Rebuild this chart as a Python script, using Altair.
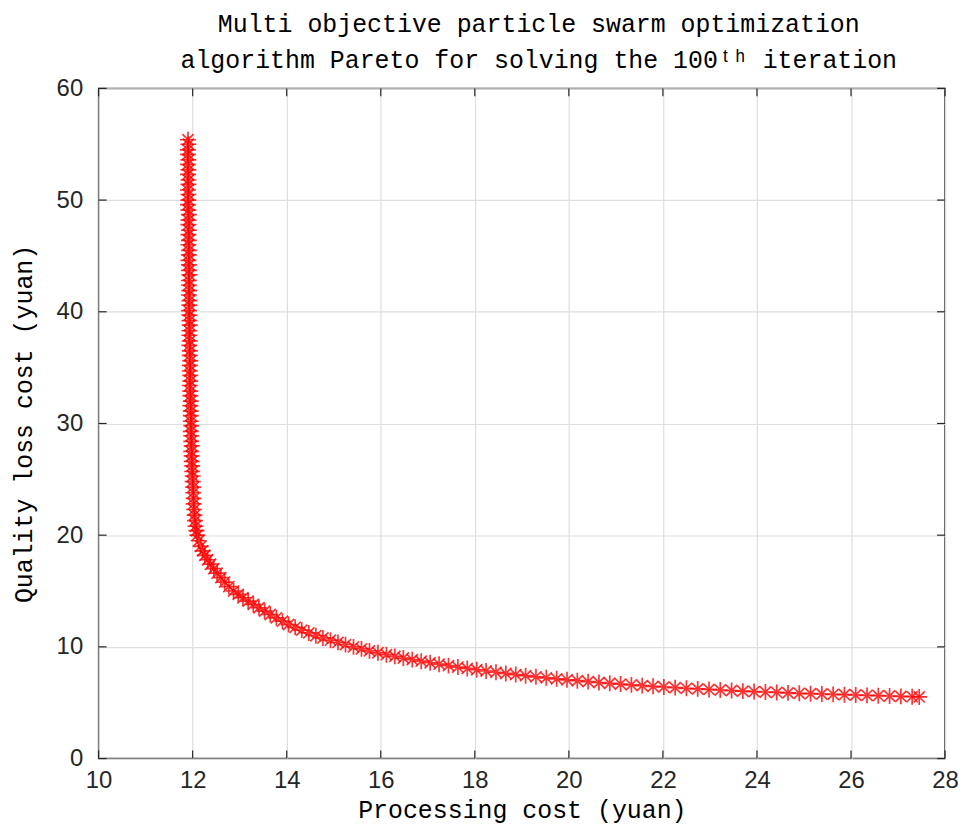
import altair as alt
import pandas as pd

# Pareto front points: steep branch near x = 12
steep_cost = [
    11.90, 11.91, 11.90, 11.90, 11.91, 11.90, 11.91, 11.90, 11.91, 11.91,
    11.90, 11.91, 11.91, 11.90, 11.91, 11.92, 11.91, 11.91, 11.92, 11.91,
    11.92, 11.91, 11.92, 11.92, 11.91, 11.92, 11.92, 11.93, 11.92, 11.92,
    11.93, 11.92, 11.93, 11.93, 11.92, 11.93, 11.93, 11.94, 11.93, 11.93,
    11.94, 11.93, 11.94, 11.94, 11.95, 11.94, 11.94, 11.95, 11.95, 11.94,
    11.95, 11.95, 11.96, 11.95, 11.96, 11.96, 11.96, 11.97, 11.96, 11.97,
    11.97, 11.98, 11.97, 11.98, 11.98, 11.99, 11.99, 12.00,
]
steep_loss = [
    55.4, 55.0, 54.5, 54.1, 53.6, 53.2, 52.7, 52.3, 51.8, 51.4,
    50.9, 50.5, 50.0, 49.6, 49.1, 48.7, 48.2, 47.8, 47.3, 46.9,
    46.4, 46.0, 45.5, 45.1, 44.6, 44.2, 43.7, 43.3, 42.8, 42.4,
    41.9, 41.5, 41.0, 40.6, 40.1, 39.7, 39.2, 38.8, 38.3, 37.9,
    37.4, 37.0, 36.5, 36.1, 35.6, 35.2, 34.7, 34.3, 33.8, 33.4,
    32.9, 32.5, 32.0, 31.6, 31.1, 30.7, 30.2, 29.8, 29.3, 28.9,
    28.4, 28.0, 27.5, 27.1, 26.6, 26.2, 25.7, 25.3,
]
# knee and flat branch
flat_cost = [
    12.00, 12.01, 12.01, 12.02, 12.02, 12.03, 12.04, 12.05, 12.06, 12.08,
    12.10, 12.13, 12.17, 12.21, 12.26, 12.32, 12.38, 12.45, 12.52, 12.60,
    12.68, 12.77, 12.87, 12.97, 13.07, 13.18, 13.29, 13.41, 13.53, 13.65,
    13.78, 13.91, 14.04, 14.18, 14.32, 14.47, 14.62, 14.77, 14.93, 15.09,
    15.25, 15.42, 15.59, 15.76, 15.94, 16.12, 16.30, 16.48, 16.67, 16.86,
    17.05, 17.24, 17.44, 17.64, 17.84, 18.04, 18.24, 18.45, 18.66, 18.87,
    19.08, 19.30, 19.52, 19.74, 19.96, 20.18, 20.41, 20.64, 20.87, 21.10,
    21.33, 21.56, 21.79, 22.02, 22.26, 22.50, 22.74, 22.98, 23.22, 23.46,
    23.70, 23.94, 24.18, 24.42, 24.66, 24.90, 25.14, 25.38, 25.62, 25.86,
    26.10, 26.34, 26.58, 26.82, 27.06, 27.30, 27.45,
]
flat_loss = [
    24.8, 24.3, 23.8, 23.3, 22.8, 22.3, 21.8, 21.3, 20.8, 20.4,
    20.0, 19.5, 19.0, 18.6, 18.2, 17.8, 17.4, 17.0, 16.6, 16.2,
    15.8, 15.4, 15.0, 14.7, 14.4, 14.1, 13.8, 13.5, 13.2, 12.9,
    12.6, 12.3, 12.0, 11.75, 11.5, 11.25, 11.0, 10.8, 10.6, 10.4,
    10.2, 10.0, 9.82, 9.64, 9.47, 9.3, 9.15, 9.0, 8.86, 8.72,
    8.58, 8.45, 8.32, 8.19, 8.07, 7.95, 7.84, 7.73, 7.62, 7.52,
    7.42, 7.32, 7.23, 7.14, 7.05, 6.97, 6.89, 6.81, 6.74, 6.67,
    6.60, 6.53, 6.47, 6.41, 6.35, 6.29, 6.24, 6.19, 6.14, 6.09,
    6.04, 6.00, 5.96, 5.92, 5.88, 5.84, 5.81, 5.78, 5.75, 5.72,
    5.69, 5.66, 5.63, 5.60, 5.57, 5.54, 5.52,
]
x_ticks = [10, 12, 14, 16, 18, 20, 22, 24, 26, 28]
y_ticks = [0, 10, 20, 30, 40, 50, 60]

W, H = 850, 673
TICK = 8
TEXT_FONT = "Liberation Mono"
NUM_FONT = "Liberation Sans"
AX = "#262626"

df = pd.DataFrame({"x": steep_cost + flat_cost, "y": steep_loss + flat_loss})
xt = pd.DataFrame({"t": x_ticks})
yt = pd.DataFrame({"t": y_ticks})

xscale = alt.Scale(domain=[10, 28], nice=False, zero=False)
yscale = alt.Scale(domain=[0, 60], nice=False, zero=False)

asterisk = "M-1,0L1,0M0,-1L0,1M-0.7,-0.7L0.7,0.7M-0.7,0.7L0.7,-0.7"

points = alt.Chart(df).mark_point(
    shape=asterisk, filled=False, stroke="#ff0000", strokeWidth=1.7,
    size=256, opacity=0.8,
).encode(
    x=alt.X("x:Q", scale=xscale,
            axis=alt.Axis(values=x_ticks, title="Processing cost (yuan)",
                          grid=True, format="d", labelFlush=False)),
    y=alt.Y("y:Q", scale=yscale,
            axis=alt.Axis(values=y_ticks, title="Quality loss cost (yuan)",
                          grid=True, format="d", labelFlush=False)),
)

bottom_ticks = alt.Chart(xt).mark_rule(color=AX, strokeWidth=1.2).encode(
    x=alt.X("t:Q", scale=xscale), y=alt.value(H), y2=alt.value(H - TICK))
top_ticks = alt.Chart(xt).mark_rule(color=AX, strokeWidth=1.2).encode(
    x=alt.X("t:Q", scale=xscale), y=alt.value(0), y2=alt.value(TICK))
left_ticks = alt.Chart(yt).mark_rule(color=AX, strokeWidth=1.2).encode(
    y=alt.Y("t:Q", scale=yscale), x=alt.value(0), x2=alt.value(TICK))
right_ticks = alt.Chart(yt).mark_rule(color=AX, strokeWidth=1.2).encode(
    y=alt.Y("t:Q", scale=yscale), x=alt.value(W), x2=alt.value(W - TICK))

chart = alt.layer(
    points, bottom_ticks, top_ticks, left_ticks, right_ticks
).properties(
    width=W, height=H,
    title=alt.TitleParams(
        text=["Multi objective particle swarm optimization",
              "algorithm Pareto for solving the 100ᵗʰ iteration"],
        font=TEXT_FONT, fontSize=25, fontWeight="normal", color="#000000",
        anchor="middle", dx=17, offset=3, lineHeight=37,
    ),
    padding={"left": 91, "top": 79, "right": 16, "bottom": 68},
    autosize=alt.AutoSizeParams(type="none"),
).configure_view(
    stroke=AX, strokeWidth=1.5,
).configure_axis(
    domain=False, ticks=False,
    gridColor="#dedede", gridWidth=1.2,
    labelFont=NUM_FONT, labelFontSize=24, labelColor=AX,
    titleFont=TEXT_FONT, titleFontSize=25, titleFontWeight="normal",
    titleColor="#000000",
).configure_axisX(
    labelPadding=10, titlePadding=5,
).configure_axisY(
    labelPadding=16, titlePadding=20,
)

chart.save("out.html", embed_options={"renderer": "svg", "actions": False})
